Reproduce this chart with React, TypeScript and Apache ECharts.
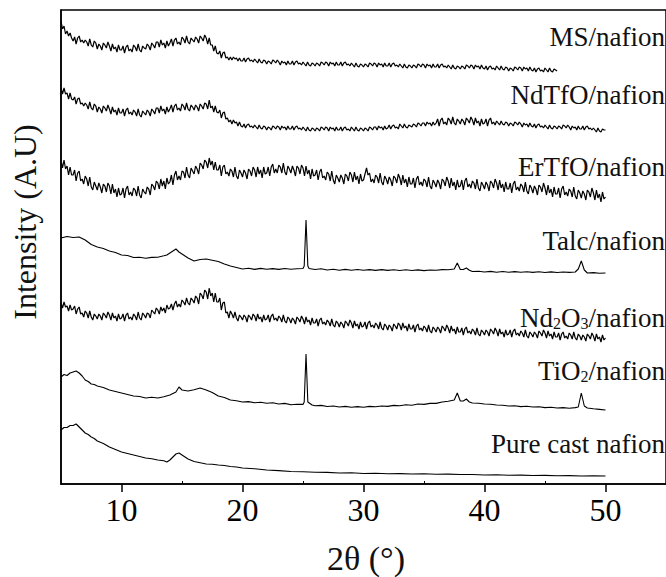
import React, { useEffect, useRef } from "react";
import * as echarts from "echarts";

// 2θ sampling of the noisy patterns
const X_START = 5;
const X_STEP = 0.125;

// Stacked (offset) intensities, arbitrary units (one row = 1°)
const msNafion = [
  463, 455, 458, 450, 453, 448, 451, 446,
  443, 447, 440, 446, 448, 442, 444, 441,
  444, 442, 438, 445, 439, 437, 443, 441,
  435, 440, 438, 434, 441, 439, 436, 442,
  438, 433, 440, 435, 437, 432, 439, 434,
  434, 438, 431, 437, 439, 433, 435, 432,
  439, 437, 433, 440, 434, 432, 438, 436,
  435, 440, 438, 434, 441, 439, 436, 442,
  442, 437, 444, 439, 441, 436, 443, 438,
  441, 445, 438, 444, 446, 440, 442, 439,
  447, 445, 441, 448, 442, 440, 446, 444,
  442, 447, 445, 441, 448, 446, 443, 449,
  446, 440, 446, 439, 439, 433, 438, 431,
  430, 433, 426, 431, 432, 426, 427, 424,
  427, 424, 427, 425, 426, 423, 426, 423,
  423, 426, 422, 425, 426, 423, 424, 422,
  425, 423, 421, 425, 422, 421, 424, 423,
  420, 423, 422, 420, 424, 423, 421, 424,
  422, 419, 423, 421, 422, 419, 423, 420,
  420, 423, 419, 422, 423, 420, 421, 419,
  422, 420, 418, 422, 419, 418, 421, 420,
  418, 421, 420, 418, 422, 421, 419, 422,
  421, 418, 422, 420, 421, 418, 422, 419,
  419, 422, 418, 421, 422, 419, 420, 418,
  421, 419, 417, 421, 418, 417, 420, 419,
  417, 420, 419, 417, 421, 420, 418, 421,
  420, 417, 421, 419, 420, 417, 421, 418,
  418, 421, 417, 420, 421, 418, 419, 417,
  420, 418, 416, 420, 417, 416, 419, 418,
  416, 419, 418, 416, 420, 419, 417, 420,
  419, 416, 420, 418, 419, 416, 420, 417,
  417, 420, 416, 419, 420, 417, 418, 416,
  419, 417, 415, 419, 416, 415, 418, 417,
  415, 418, 417, 415, 419, 418, 416, 419,
  418, 415, 419, 417, 418, 415, 419, 416,
  415, 418, 414, 417, 418, 415, 416, 414,
  418, 416, 414, 418, 415, 414, 417, 416,
  413, 416, 415, 413, 417, 416, 414, 417,
  416, 413, 417, 415, 416, 413, 417, 414,
  413, 416, 412, 415, 416, 413, 414, 412,
  416, 414, 412, 416, 413, 412, 415, 414,
  413,
];

const ndTfONafion = [
  396, 390, 396, 390, 391, 385, 391, 385,
  384, 387, 380, 385, 386, 380, 381, 378,
  381, 379, 375, 382, 376, 374, 380, 378,
  372, 377, 375, 371, 378, 376, 373, 379,
  375, 370, 377, 372, 374, 369, 376, 371,
  371, 375, 368, 374, 376, 370, 372, 369,
  374, 372, 368, 375, 369, 367, 373, 371,
  369, 374, 372, 368, 375, 373, 370, 376,
  376, 371, 378, 373, 375, 370, 377, 372,
  375, 379, 372, 378, 380, 374, 376, 373,
  380, 378, 374, 381, 375, 373, 379, 377,
  374, 379, 377, 373, 380, 378, 375, 381,
  380, 375, 384, 376, 378, 372, 378, 372,
  371, 374, 366, 371, 372, 365, 366, 362,
  364, 360, 364, 361, 362, 358, 362, 358,
  357, 360, 356, 359, 360, 357, 358, 356,
  359, 357, 355, 359, 356, 355, 358, 357,
  354, 357, 356, 354, 358, 357, 355, 358,
  357, 354, 358, 356, 357, 354, 358, 355,
  355, 358, 354, 357, 358, 355, 356, 354,
  357, 355, 353, 357, 354, 353, 356, 355,
  353, 356, 355, 353, 357, 356, 354, 357,
  356, 353, 357, 355, 356, 353, 357, 354,
  354, 357, 353, 356, 357, 354, 355, 353,
  357, 355, 353, 357, 354, 353, 356, 355,
  353, 356, 355, 353, 357, 356, 354, 357,
  357, 354, 358, 356, 357, 354, 358, 355,
  356, 359, 355, 358, 359, 356, 357, 355,
  360, 358, 356, 360, 357, 356, 359, 358,
  357, 360, 359, 357, 361, 360, 358, 361,
  361, 358, 362, 360, 361, 358, 362, 359,
  361, 365, 358, 364, 366, 360, 362, 359,
  366, 364, 360, 367, 361, 359, 365, 363,
  360, 365, 363, 359, 366, 364, 361, 367,
  364, 359, 366, 361, 363, 358, 365, 360,
  361, 365, 358, 364, 366, 360, 362, 359,
  363, 361, 359, 363, 360, 359, 362, 361,
  358, 361, 360, 358, 362, 361, 359, 362,
  360, 357, 361, 359, 360, 357, 361, 358,
  357, 360, 356, 359, 360, 357, 358, 356,
  359, 357, 355, 359, 356, 355, 358, 357,
  355, 358, 357, 355, 359, 358, 356, 359,
  357, 354, 358, 356, 357, 354, 358, 355,
  355, 358, 354, 357, 358, 355, 356, 354,
  356, 354, 352, 356, 353, 352, 355, 354,
  354,
];

const erTfONafion = [
  324, 316, 324, 315, 318, 309, 317, 309,
  309, 314, 303, 311, 313, 303, 305, 300,
  308, 305, 298, 307, 297, 294, 302, 298,
  294, 301, 297, 291, 300, 298, 292, 301,
  298, 290, 300, 291, 295, 287, 296, 289,
  290, 296, 286, 295, 298, 289, 292, 288,
  296, 294, 288, 298, 289, 286, 295, 292,
  290, 297, 295, 289, 300, 298, 294, 303,
  301, 295, 305, 298, 303, 295, 306, 300,
  302, 309, 299, 309, 313, 304, 308, 304,
  313, 312, 306, 317, 309, 306, 316, 313,
  310, 318, 315, 310, 321, 319, 315, 324,
  322, 316, 326, 319, 323, 314, 322, 314,
  314, 319, 308, 317, 319, 310, 312, 308,
  315, 313, 307, 317, 308, 305, 314, 311,
  307, 314, 311, 305, 315, 313, 308, 317,
  314, 307, 317, 310, 314, 306, 317, 310,
  311, 317, 308, 317, 320, 311, 315, 311,
  319, 317, 311, 321, 312, 309, 318, 315,
  311, 318, 314, 308, 318, 316, 310, 319,
  316, 308, 318, 310, 314, 305, 315, 308,
  309, 314, 304, 312, 315, 306, 308, 304,
  312, 310, 303, 313, 304, 300, 309, 306,
  302, 309, 306, 300, 310, 308, 303, 312,
  309, 302, 312, 304, 308, 300, 310, 303,
  304, 310, 316, 309, 311, 302, 305, 301,
  309, 307, 301, 311, 302, 299, 308, 305,
  300, 307, 304, 298, 308, 306, 301, 310,
  306, 299, 309, 301, 305, 297, 307, 300,
  300, 306, 296, 305, 308, 299, 302, 298,
  305, 303, 297, 307, 298, 295, 304, 301,
  297, 304, 301, 295, 305, 303, 298, 307,
  303, 296, 306, 298, 302, 294, 304, 297,
  298, 304, 294, 303, 306, 297, 300, 296,
  303, 301, 295, 305, 296, 293, 302, 299,
  295, 302, 299, 293, 303, 301, 296, 305,
  301, 294, 304, 296, 300, 292, 302, 295,
  295, 301, 291, 300, 303, 294, 297, 293,
  300, 298, 292, 302, 293, 290, 299, 296,
  291, 298, 295, 289, 299, 297, 292, 301,
  296, 289, 299, 291, 295, 287, 297, 290,
  290, 296, 286, 295, 298, 289, 292, 288,
  295, 293, 287, 297, 288, 285, 294, 291,
  286, 293, 290, 284, 294, 292, 287, 296,
  291, 284, 294, 286, 290, 282, 292, 285,
  287,
];

const nd2O3Nafion = [
  181, 176, 182, 177, 178, 173, 179, 174,
  175, 178, 170, 175, 177, 170, 171, 167,
  173, 171, 166, 173, 167, 164, 170, 168,
  165, 170, 168, 164, 171, 169, 166, 172,
  169, 164, 171, 166, 168, 163, 170, 165,
  166, 170, 163, 169, 171, 165, 167, 164,
  170, 168, 164, 172, 166, 164, 171, 169,
  166, 171, 170, 166, 174, 172, 170, 176,
  174, 170, 177, 173, 176, 171, 179, 175,
  176, 180, 174, 180, 183, 177, 180, 177,
  184, 182, 179, 186, 181, 179, 186, 184,
  181, 188, 186, 180, 191, 189, 185, 194,
  192, 185, 196, 188, 191, 182, 191, 182,
  182, 186, 174, 181, 182, 171, 172, 166,
  173, 170, 166, 172, 166, 163, 169, 167,
  164, 169, 167, 162, 169, 167, 164, 170,
  168, 163, 170, 165, 167, 162, 169, 164,
  165, 169, 162, 168, 170, 164, 166, 163,
  168, 166, 162, 169, 163, 161, 167, 165,
  161, 166, 164, 160, 167, 165, 162, 168,
  165, 160, 167, 162, 164, 159, 166, 161,
  161, 165, 158, 164, 166, 160, 162, 159,
  164, 162, 158, 165, 159, 157, 163, 161,
  157, 162, 160, 156, 163, 161, 158, 164,
  161, 156, 163, 158, 160, 155, 162, 157,
  158, 162, 155, 161, 163, 157, 159, 156,
  161, 159, 155, 162, 156, 154, 160, 158,
  154, 159, 157, 153, 160, 158, 155, 161,
  159, 154, 161, 156, 158, 153, 160, 155,
  155, 159, 152, 158, 160, 154, 156, 153,
  158, 156, 152, 159, 153, 151, 157, 155,
  152, 157, 155, 151, 158, 156, 153, 159,
  156, 151, 158, 153, 155, 150, 157, 152,
  152, 156, 149, 155, 157, 151, 153, 150,
  155, 153, 149, 156, 150, 148, 154, 152,
  149, 154, 152, 148, 155, 153, 150, 156,
  153, 148, 155, 150, 152, 147, 154, 149,
  150, 154, 147, 153, 155, 149, 151, 148,
  153, 151, 147, 154, 148, 146, 152, 150,
  147, 152, 150, 146, 153, 151, 148, 154,
  151, 146, 153, 148, 150, 145, 152, 147,
  147, 151, 144, 150, 152, 146, 148, 145,
  151, 149, 145, 152, 146, 144, 150, 148,
  144, 149, 147, 143, 150, 148, 145, 151,
  148, 143, 150, 145, 147, 142, 149, 144,
  146,
];

// [2θ, intensity] pairs for the smoother patterns with sharp reflections
const talcNafion = [
  [5, 246], [5.5, 247.5], [6, 246.5], [6.5, 247], [7, 244], [7.5, 239.5], [8, 237], [8.5, 235.5],
  [9, 233], [9.5, 231.5], [10, 229], [10.5, 228.5], [11, 226.5], [11.5, 226.8], [12, 225.8], [12.5, 226.6],
  [13, 226.8], [13.5, 228.2], [13.75, 229], [14, 231], [14.25, 233], [14.5, 235], [14.75, 232], [15, 230],
  [15.25, 228], [15.5, 226], [16, 223], [16.5, 224.5], [17, 225], [17.5, 223.8], [18, 222.5], [18.5, 220],
  [19, 218], [19.5, 216.5], [20, 215], [20.5, 215.8], [21, 214.6], [21.5, 215.6], [22, 214.8], [22.5, 215.4],
  [23, 214.6], [23.5, 215.5], [24, 214.8], [24.5, 215.3], [25, 215.5], [25.1, 218], [25.25, 264], [25.4, 218],
  [25.5, 215.5], [26, 214.5], [26.5, 215.2], [27, 214], [27.5, 214.8], [28, 213.8], [28.5, 214.6], [29, 213.8],
  [29.5, 214.5], [30, 213.8], [30.5, 214.4], [31, 213.6], [31.5, 214.4], [32, 213.6], [32.5, 214.3], [33, 213.5],
  [33.5, 214.2], [34, 213.5], [34.5, 214.1], [35, 213.4], [35.5, 214], [36, 213.8], [36.5, 214.4], [37, 214.2],
  [37.5, 215], [37.75, 221], [38, 214.5], [38.25, 214.5], [38.5, 216], [38.75, 213.8], [39, 212.5], [39.5, 212.8],
  [40, 212], [40.5, 212.6], [41, 211.8], [41.5, 212.5], [42, 211.8], [42.5, 212.4], [43, 211.7], [43.5, 212.3],
  [44, 211.6], [44.5, 212.2], [45, 211.5], [45.5, 212.1], [46, 211.5], [46.5, 212], [47, 211.6], [47.5, 212],
  [47.75, 215], [48, 223], [48.25, 214], [48.5, 211], [49, 211.4], [49.5, 210.8], [50, 211],
];

const tiO2Nafion = [
  [5, 107], [5.25, 109.5], [5.5, 108.5], [5.75, 111], [6, 112], [6.25, 113], [6.5, 111], [6.75, 108],
  [7, 104], [7.25, 102.5], [7.5, 100], [7.75, 99.5], [8, 98], [8.5, 96.5], [9, 94], [9.5, 92.5],
  [10, 91], [10.5, 89.5], [11, 88], [11.5, 87.5], [12, 86], [12.5, 86.8], [13, 86], [13.5, 87.2],
  [14, 89], [14.5, 92], [14.75, 97], [15, 94], [15.5, 93], [16, 94.2], [16.5, 96], [17, 94],
  [17.5, 91.5], [18, 88], [18.5, 86.5], [19, 84], [19.5, 83.2], [20, 82], [20.5, 82.4], [21, 81.2],
  [21.5, 81.8], [22, 80.8], [22.5, 81.2], [23, 80], [23.5, 80.6], [24, 79.2], [24.5, 79.8], [25, 79.6],
  [25.1, 82], [25.25, 130], [25.4, 82], [25.75, 79], [26, 78.2], [26.5, 78.6], [27, 77.5], [27.5, 78],
  [28, 77], [28.5, 77.6], [29, 76.8], [29.5, 77.4], [30, 76.8], [30.5, 77.6], [31, 77.2], [31.5, 78],
  [32, 77.6], [32.5, 78.6], [33, 78.2], [33.5, 79.2], [34, 78.8], [34.5, 80], [35, 79.6], [35.5, 80.6],
  [36, 80.6], [36.5, 82], [37, 82.8], [37.5, 84], [37.75, 91], [38, 83], [38.25, 83], [38.5, 85],
  [38.75, 82], [39, 81], [39.5, 80.8], [40, 80], [40.5, 79.8], [41, 79], [41.5, 78.8], [42, 78],
  [42.5, 78.2], [43, 77.4], [43.5, 77.8], [44, 77], [44.5, 77.2], [45, 76.4], [45.5, 76.8], [46, 76],
  [46.5, 76.4], [47, 75.8], [47.5, 76.4], [47.75, 77], [48, 91], [48.25, 78], [48.5, 76], [49, 75.2],
  [49.5, 74.6], [50, 74],
];

const pureCastNafion = [
  [5, 54], [5.25, 56.5], [5.5, 56.5], [5.75, 58.5], [6, 58.5], [6.25, 60], [6.5, 57], [6.75, 54],
  [7, 51], [7.25, 49.5], [7.5, 47], [7.75, 45.5], [8, 43], [8.5, 40.5], [9, 37], [9.5, 34.5],
  [10, 32], [10.5, 30.5], [11, 29], [11.5, 27.5], [12, 26], [12.5, 25.3], [13, 24], [13.5, 23.2],
  [13.75, 22], [14, 24], [14.25, 27], [14.5, 30], [14.75, 31], [15, 29], [15.5, 25], [16, 22.5],
  [16.5, 21.3], [17, 20], [17.5, 19.8], [18, 19], [18.5, 18.5], [19, 17.5], [19.5, 17], [20, 16],
  [21, 15.3], [22, 14], [23, 13.4], [24, 12.5], [25, 12.3], [26, 11.8], [27, 11.6], [28, 11],
  [29, 11.2], [30, 10.5], [31, 10.7], [32, 10.3], [33, 10.4], [34, 10], [35, 10.2], [36, 9.8],
  [37, 9.9], [38, 9.5], [39, 9.5], [40, 9], [41, 9.2], [42, 8.8], [43, 8.9], [44, 8.5],
  [45, 8.6], [46, 8.3], [47, 8.4], [48, 8], [49, 8.1], [50, 8],
];

const X_TICKS = [10, 20, 30, 40, 50];
const X_MINOR_TICKS = [15, 25, 35, 45];

const SERIES_LABELS = [
  { text: "MS/nafion", y: 37 },
  { text: "NdTfO/nafion", y: 95 },
  { text: "ErTfO/nafion", y: 167 },
  { text: "Talc/nafion", y: 241 },
  { text: "Nd{s|2}O{s|3}/nafion", y: 318 },
  { text: "TiO{s|2}/nafion", y: 371 },
  { text: "Pure cast nafion", y: 444 },
];

const FONT = "Liberation Serif";

function toPairs(values: number[]) {
  return values.map((v, i) => [X_START + i * X_STEP, v]);
}

export default function App() {
  const ref = useRef<HTMLDivElement>(null);

  useEffect(() => {
    if (!ref.current) return;
    const chart = echarts.init(ref.current, undefined, { renderer: "svg" });

    const line = (name: string, data: number[][], width: number) => ({
      name,
      type: "line",
      data,
      showSymbol: false,
      symbol: "none",
      smooth: false,
      lineStyle: { color: "#000", width },
      z: 3,
    });

    const axisLineStyle = { color: "#000", width: 1.5 };

    chart.setOption({
      animation: false,
      backgroundColor: "#fff",
      textStyle: { fontFamily: FONT },
      grid: {
        left: 61,
        top: 10,
        width: 610,
        height: 474,
        show: true,
        borderColor: "#000",
        borderWidth: 1.5,
        backgroundColor: "transparent",
      },
      xAxis: [
        {
          type: "value",
          min: 5,
          max: 55,
          position: "bottom",
          axisLine: { show: true, onZero: false, lineStyle: axisLineStyle },
          axisTick: {
            show: true,
            length: 8,
            customValues: X_TICKS,
            lineStyle: axisLineStyle,
          },
          axisLabel: {
            customValues: X_TICKS,
            fontSize: 32,
            fontFamily: FONT,
            color: "#000",
            margin: 10,
          },
          splitLine: { show: false },
        },
        {
          type: "value",
          min: 5,
          max: 55,
          position: "bottom",
          axisLine: { show: false },
          axisTick: {
            show: true,
            inside: true,
            length: 3,
            customValues: X_MINOR_TICKS,
            lineStyle: { color: "#000", width: 1 },
          },
          axisLabel: { show: false },
          splitLine: { show: false },
        },
      ],
      yAxis: {
        type: "value",
        min: 0,
        max: 474,
        axisLine: { show: true, lineStyle: axisLineStyle },
        axisTick: { show: false },
        axisLabel: { show: false },
        splitLine: { show: false },
      },
      series: [
        line("MS/nafion", toPairs(msNafion), 1.2),
        line("NdTfO/nafion", toPairs(ndTfONafion), 1.2),
        line("ErTfO/nafion", toPairs(erTfONafion), 1.2),
        line("Talc/nafion", talcNafion, 1.1),
        line("Nd2O3/nafion", toPairs(nd2O3Nafion), 1.2),
        line("TiO2/nafion", tiO2Nafion, 1.1),
        line("Pure cast nafion", pureCastNafion, 1.1),
      ],
      graphic: [
        ...SERIES_LABELS.map((l) => ({
          type: "text",
          x: 665,
          y: l.y,
          style: {
            text: l.text,
            align: "right",
            verticalAlign: "middle",
            fontSize: 27,
            fontFamily: FONT,
            fill: "#111",
            rich: {
              s: {
                fontSize: 16,
                fontFamily: FONT,
                fill: "#111",
                verticalAlign: "bottom",
                lineHeight: 16,
              },
            },
          },
        })),
        {
          type: "text",
          x: 366,
          y: 558,
          style: {
            text: "2θ (°)",
            align: "center",
            verticalAlign: "middle",
            fontSize: 34,
            fontFamily: FONT,
            fill: "#111",
          },
        },
        {
          type: "text",
          x: 25,
          y: 222,
          rotation: Math.PI / 2,
          style: {
            text: "Intensity (A.U)",
            align: "center",
            verticalAlign: "middle",
            fontSize: 32,
            fontFamily: FONT,
            fill: "#111",
          },
        },
      ],
    });

    return () => chart.dispose();
  }, []);

  return (
    <div
      ref={ref}
      style={{ position: "fixed", left: 0, top: 0, width: 666, height: 577, background: "#fff" }}
    />
  );
}
